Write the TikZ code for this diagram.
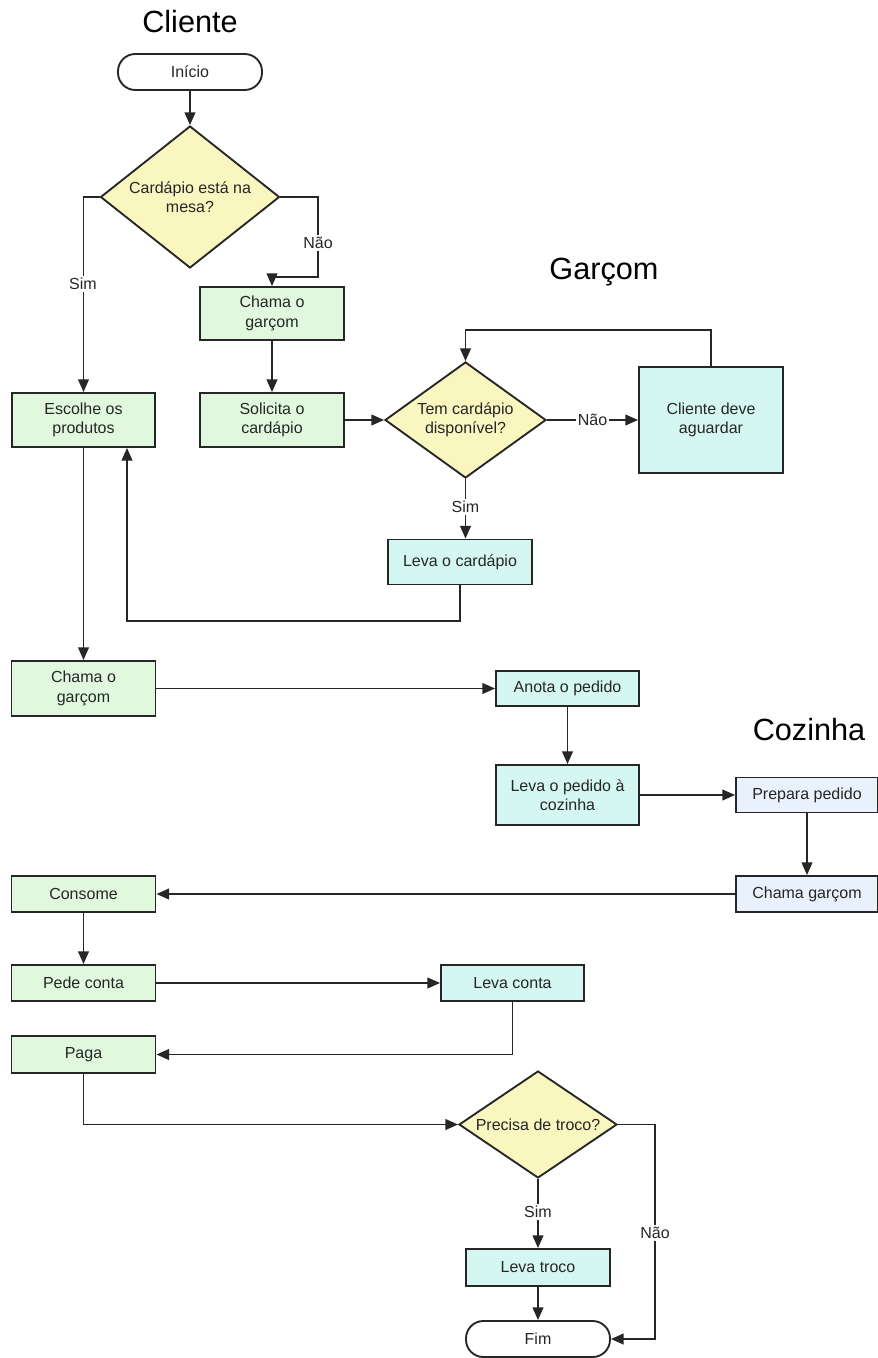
\documentclass[tikz,border=0pt]{standalone}
\usepackage{fontspec}
\setmainfont{Liberation Sans}
\usetikzlibrary{shapes.geometric, arrows.meta}

\definecolor{edge}{HTML}{262626}
\definecolor{cfill}{HTML}{E0F8DE}
\definecolor{gfill}{HTML}{D5F7F1}
\definecolor{kfill}{HTML}{E9F1FC}
\definecolor{dfill}{HTML}{FAF6C0}

\begin{document}
\begin{tikzpicture}[x=0.75pt, y=-0.75pt,
  every node/.style={font=\fontsize{12}{14.5}\selectfont, text=black!85},
  base/.style={draw=edge, line width=1.4pt, align=center, inner sep=2pt},
  box/.style 2 args={base, rectangle, minimum width=#1*0.75pt, minimum height=#2*0.75pt},
  term/.style={base, rectangle, fill=white, rounded corners=13pt, minimum width=108pt, minimum height=27pt},
  dec/.style 2 args={base, diamond, fill=dfill, inner sep=0pt, minimum width=#1*0.75pt, minimum height=#2*0.75pt},
  arr/.style={draw=edge, line width=1.4pt, -{Triangle[length=9.5pt, width=8pt]}},
  lbl/.style={fill=white, inner sep=1.5pt},
  title/.style={font=\fontsize{23}{27}\selectfont, text=black}
]
\fill[white] (0,0) rectangle (877,1358);
\useasboundingbox (0,0) rectangle (877,1358);

% lane titles
\node[title] (tcli) at (190,22) {Cliente};
\node[title] (tgar) at (604,272) {Garçom};
\node[title] (tcoz) at (809,730) {Cozinha};

% cliente
\node[term] (ini) at (190,72) {Início};
\node[dec={179}{142}, aspect=1.26] (d1) at (190,197) {Cardápio está na\\mesa?};
\node[box={144}{53}, fill=cfill] (cg1) at (272,313.5) {Chama o\\garçom};
\node[box={144}{54}, fill=cfill] (sol) at (272,420) {Solicita o\\cardápio};
\node[box={143}{54}, fill=cfill] (esc) at (83.5,420) {Escolhe os\\produtos};
\node[box={144}{55}, fill=cfill] (cg2) at (83.5,688.5) {Chama o\\garçom};
\node[box={144}{36}, fill=cfill] (cons) at (83.5,894) {Consome};
\node[box={144}{36}, fill=cfill] (pede) at (83.5,983) {Pede conta};
\node[box={144}{37}, fill=cfill] (paga) at (83.5,1054.5) {Paga};

% garcom
\node[dec={161}{116}, aspect=1.39] (d2) at (465.5,420) {Tem cardápio\\disponível?};
\node[box={144}{106}, fill=gfill] (cda) at (711,420) {Cliente deve\\aguardar};
\node[box={144}{45}, fill=gfill] (lca) at (460,562) {Leva o cardápio};
\node[box={143}{35}, fill=gfill] (anota) at (567.5,688.5) {Anota o pedido};
\node[box={143}{60}, fill=gfill] (lpc) at (567.5,795) {Leva o pedido à\\cozinha};
\node[box={143}{36}, fill=gfill] (lconta) at (512.5,983) {Leva conta};
\node[dec={158}{107}, aspect=1.48] (d3) at (538,1124.5) {Precisa de troco?};
\node[box={144}{37}, fill=gfill] (ltroco) at (538,1267.5) {Leva troco};
\node[term] (fim) at (538,1339) {Fim};

% cozinha
\node[box={142}{35}, fill=kfill] (prep) at (807,795) {Prepara pedido};
\node[box={142}{36}, fill=kfill] (chg) at (807,894) {Chama garçom};

% connectors
\draw[arr] (ini) -- (d1);
\draw[arr] (d1.west) -| (esc.north);
\node[lbl] (sim1) at (83,284) {Sim};
\draw[arr] (d1.east) -| (318,277) -| (cg1.north);
\node[lbl] (nao1) at (318,243) {Não};
\draw[arr] (cg1) -- (sol);
\draw[arr] (sol) -- (d2);
\draw[arr] (d2.east) -- (cda.west) node[lbl, pos=0.5] {Não};
\draw[arr] (cda.north) -- (cda.north |- 0,330) -| (d2.north);
\draw[arr] (d2.south) -- (d2.south |- lca.north);
\node[lbl] (sim2) at (465.5,507) {Sim};
\draw[arr] (lca.south) |- (127,621) -- (esc.south -| 127,0);
\draw[arr] (esc) -- (cg2);
\draw[arr] (cg2) -- (anota);
\draw[arr] (anota) -- (lpc);
\draw[arr] (lpc) -- (prep);
\draw[arr] (prep) -- (chg);
\draw[arr] (chg) -- (cons);
\draw[arr] (cons) -- (pede);
\draw[arr] (pede) -- (lconta);
\draw[arr] (lconta.south) |- (paga.east);
\draw[arr] (paga.south) |- (d3.west);
\draw[arr] (d3.east) -| (655,1200) |- (fim.east);
\node[lbl] (nao3) at (655,1233) {Não};
\draw[arr] (d3.south) -- (ltroco.north);
\node[lbl] (sim3) at (538,1212) {Sim};
\draw[arr] (ltroco) -- (fim);
\end{tikzpicture}
\end{document}
